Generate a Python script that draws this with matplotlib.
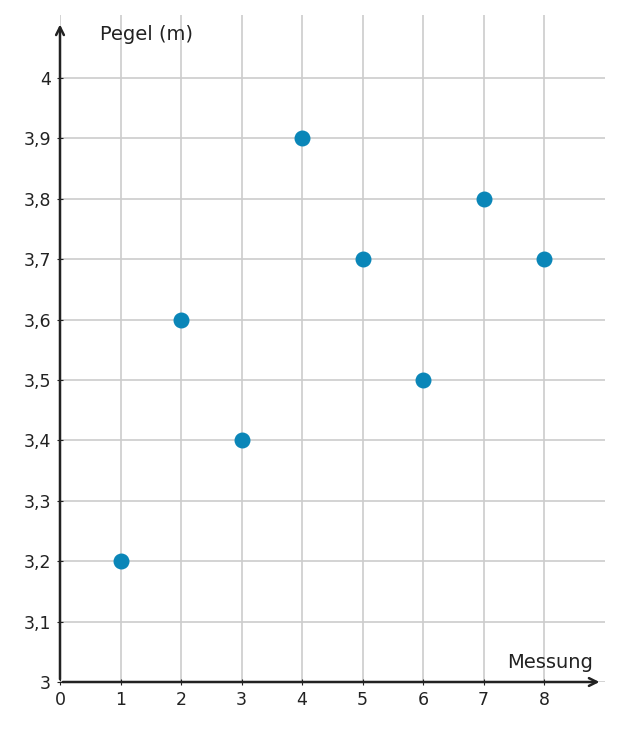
import matplotlib
matplotlib.use("Agg")
import matplotlib.pyplot as plt

messung = [1, 2, 3, 4, 5, 6, 7, 8]
pegel = [3.2, 3.6, 3.4, 3.9, 3.7, 3.5, 3.8, 3.7]
xticks = [0, 1, 2, 3, 4, 5, 6, 7, 8]
yticks = [3.0, 3.1, 3.2, 3.3, 3.4, 3.5, 3.6, 3.7, 3.8, 3.9, 4.0]

W, H = 622, 731
fig = plt.figure(figsize=(W/100, H/100), dpi=100)
x0, x1 = 60, 605
y0, y1 = 682, 15
ax = fig.add_axes([x0/W, (H-y0)/H, (x1-x0)/W, (y0-y1)/H])
ax.set_xlim(0, (x1-x0)/60.5)
ax.set_ylim(3, 3 + (y0-y1)/604)
for s in ax.spines.values():
    s.set_visible(False)
ax.set_xticks(xticks)
ax.set_yticks(yticks)
ax.set_xticklabels([str(v) for v in xticks])
ax.set_yticklabels([("%g" % v).replace(".", ",") for v in yticks])
ax.tick_params(length=5, color="#222222", labelsize=12.5, labelcolor="#222222")
ax.tick_params(axis="x", direction="inout", pad=4)
ax.tick_params(axis="y", direction="inout", pad=4)
ax.grid(True, color="#cccccc", linewidth=1.2)
ax.set_axisbelow(True)
ax.scatter(messung, pegel, s=110, color="#0a86b8", zorder=3, clip_on=False)
# axes with arrows
ax.annotate("", xy=(0.995, 0), xytext=(0, 0), xycoords="axes fraction",
            arrowprops=dict(arrowstyle="->", color="#222222", lw=1.8, mutation_scale=14))
ax.annotate("", xy=(0, 0.99), xytext=(0, 0), xycoords="axes fraction",
            arrowprops=dict(arrowstyle="->", color="#222222", lw=1.8, mutation_scale=14))
fig.text(100/W, 1-35/H, "Pegel (m)", fontsize=14, color="#222222", va="center", ha="left")
fig.text(593/W, 1-662/H, "Messung", fontsize=14, color="#222222", va="center", ha="right")
fig.savefig("out.png", dpi=100)
